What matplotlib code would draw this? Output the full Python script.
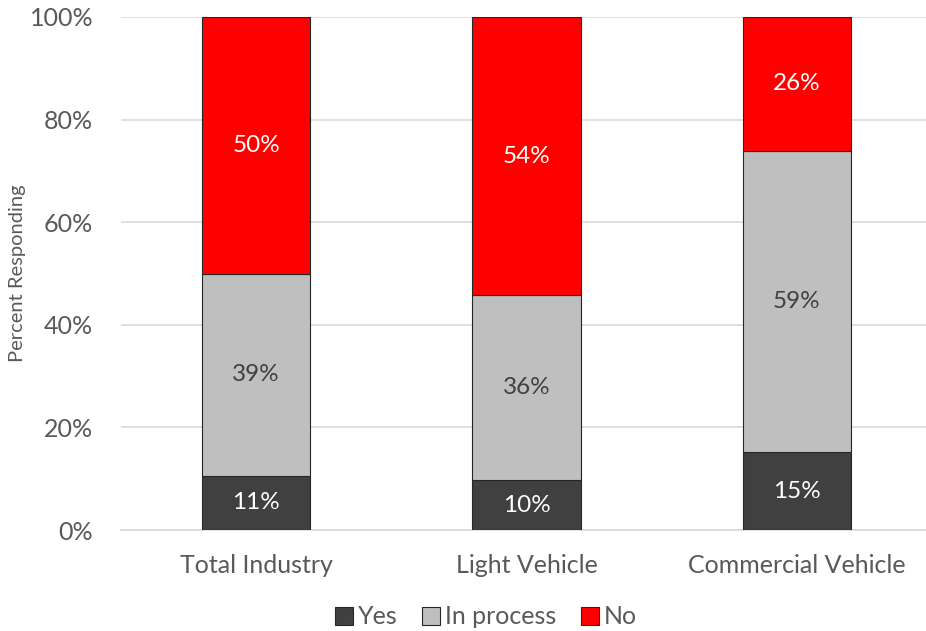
import matplotlib.pyplot as plt
import numpy as np

plt.rcParams['font.family'] = ['Lato', 'DejaVu Sans']

# Datos (porcentaje)
categorias = ['Total Industry', 'Light Vehicle', 'Commercial Vehicle']
yes = [10.6, 9.7, 15.2]
in_process = [39.3, 36.1, 58.7]
no = [50.1, 54.2, 26.1]

series = ['Yes', 'In process', 'No']
colores = ['#404040', '#BFBFBF', '#FF0000']
color_texto = ['white', '#404040', 'white']

fig = plt.figure(figsize=(9.26, 6.31), dpi=100)
ax = fig.add_axes([121 / 926, 101 / 631, 811 / 926, 513 / 631])

x = np.arange(len(categorias))
base = np.zeros(len(categorias))
for nombre, valores, color, ctexto in zip(series, [yes, in_process, no], colores, color_texto):
    valores = np.array(valores)
    ax.bar(x, valores, 0.4, bottom=base, color=color, edgecolor='#262626',
           linewidth=0.8, label=nombre, zorder=3)
    for xi, b, v in zip(x, base, valores):
        ax.text(xi, b + v / 2, f'{round(v):d}%', ha='center', va='center',
                fontsize=17.5, color=ctexto, zorder=4)
    base += valores

ax.set_xlim(-0.5, 2.5)
ax.set_ylim(0, 100)
ax.set_yticks(np.arange(0, 101, 20))
ax.set_yticklabels([f'{v}%' for v in range(0, 101, 20)])
ax.set_xticks(x)
ax.set_xticklabels(categorias)
ax.tick_params(axis='both', length=0, labelsize=18, labelcolor='#595959')
ax.tick_params(axis='y', pad=20)
ax.tick_params(axis='x', pad=17)
ax.grid(axis='y', color='#D9D9D9', linewidth=1.2, zorder=0)
for lado in ['top', 'right', 'left']:
    ax.spines[lado].set_visible(False)
ax.spines['bottom'].set_color('#D9D9D9')
ax.spines['bottom'].set_linewidth(1.2)
ax.set_ylabel('Percent Responding', fontsize=14.5, color='#595959')
ax.yaxis.set_label_coords(-(121 - 26) / 811, 0.5)

fig.legend(loc='center', bbox_to_anchor=(486 / 926, 1 - 617 / 631), ncol=3, frameon=False,
           fontsize=18, labelcolor='#595959', handlelength=0.7, handleheight=0.7,
           handletextpad=0.2, columnspacing=1.0)

fig.savefig('out.png', dpi=100)
